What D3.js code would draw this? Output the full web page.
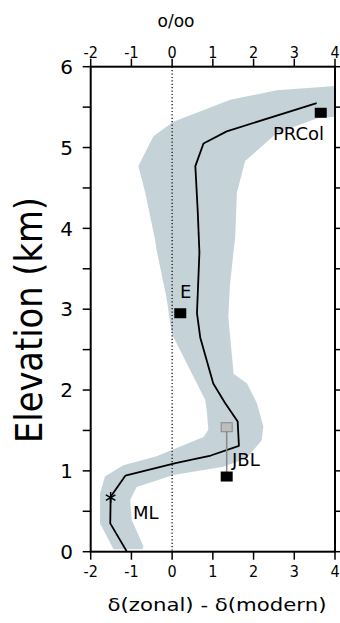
<!DOCTYPE html>
<html>
<head>
<meta charset="utf-8">
<script src="https://cdn.jsdelivr.net/npm/d3@7"></script>
<style>
  html, body { margin: 0; padding: 0; background: #fff; }
  svg { display: block; }
  .tick-num { font-family: "Liberation Sans Narrow", "DejaVu Sans Condensed", sans-serif; font-stretch: condensed; }
  .lab { font-family: "DejaVu Sans", sans-serif; }
</style>
</head>
<body>
<div id="chart"></div>
<script>
// mean profile: delta offset (per mil) vs elevation (km)
const meanX = [3.55, 1.34, 0.77, 0.57, 0.63, 0.67, 0.61, 0.69, 1.01, 1.30, 1.61, 1.64, 0.95, 0.11, -1.15, -1.51, -1.52, -1.11];
const meanY = [5.55, 5.20, 5.05, 4.77, 4.20, 3.70, 2.95, 2.65, 2.08, 1.84, 1.61, 1.31, 1.19, 1.10, 0.94, 0.68, 0.35, 0.00];

// shaded uncertainty envelope (polygon outline, clockwise)
const bandX = [-0.46, 0.03, 1.43, 2.57, 4.0, 4.0, 3.55, 2.57, 1.79, 1.59, 1.55, 1.42, 1.38, 1.51, 1.84, 2.08, 2.24, 2.20, 1.84, 1.26, 0.03, -0.87, -1.03, -0.99, -0.70, -0.74, -1.44, -1.77, -1.77, -1.65, -1.20, -0.38, 0.77, 0.89, 0.85, 0.81, 0.28, -0.01, -0.13, -0.38, -0.42, -0.66, -0.83];
const bandY = [5.14, 5.32, 5.59, 5.71, 5.76, 5.38, 5.36, 5.18, 4.83, 4.44, 3.90, 3.30, 2.90, 2.20, 2.08, 1.84, 1.55, 1.38, 1.16, 1.05, 0.95, 0.80, 0.64, 0.39, 0.06, 0.03, 0.03, 0.35, 0.72, 0.93, 1.07, 1.18, 1.42, 1.51, 1.75, 1.88, 2.41, 2.70, 3.12, 3.73, 3.86, 4.44, 4.77];

// sample sites
const siteNames = ["PRCol", "E", "JBL"];
const siteX = [3.65, 0.20, 1.34];
const siteY = [5.43, 2.95, 0.93];
const jblModX = [1.34];
const jblModY = [1.54];
const mlX = [-1.51];
const mlY = [0.67];

const xTicks = [-2, -1, 0, 1, 2, 3, 4];
const yTicks = [0, 1, 2, 3, 4, 5, 6];
const yMinor = [0, 0.5, 1, 1.5, 2, 2.5, 3, 3.5, 4, 4.5, 5, 5.5, 6];

const W = 340, H = 623;
const pL = 90.7, pR = 335, pT = 66.7, pB = 551.7;

const x = d3.scaleLinear().domain([-2, 4]).range([pL, pR]);
const y = d3.scaleLinear().domain([0, 6]).range([pB, pT]);

const svg = d3.select("#chart").append("svg")
  .attr("width", W).attr("height", H);

// band
const bandPts = bandX.map((v, i) => [x(v), y(bandY[i])]);
svg.append("path")
  .attr("d", d3.line()(bandPts) + "Z")
  .attr("fill", "#c5d3d8");

// zero line
svg.append("line")
  .attr("x1", x(0)).attr("x2", x(0))
  .attr("y1", pT).attr("y2", pB)
  .attr("stroke", "#000").attr("stroke-width", 1.2)
  .attr("stroke-dasharray", "1.2,2.2");

// mean line
const meanPts = meanX.map((v, i) => [x(v), y(meanY[i])]);
svg.append("path")
  .attr("d", d3.line()(meanPts))
  .attr("fill", "none").attr("stroke", "#000").attr("stroke-width", 1.8)
  .attr("stroke-linejoin", "round");

// JBL connector + modern (gray) square
svg.append("line")
  .attr("x1", x(jblModX[0])).attr("x2", x(siteX[2]))
  .attr("y1", y(jblModY[0])).attr("y2", y(siteY[2]))
  .attr("stroke", "#888").attr("stroke-width", 1.5);
svg.append("rect")
  .attr("x", x(jblModX[0]) - 5.5).attr("y", y(jblModY[0]) - 4.5)
  .attr("width", 11).attr("height", 9)
  .attr("fill", "#bdbdbd").attr("stroke", "#888").attr("stroke-width", 1);

// black squares
svg.selectAll("rect.site").data(siteX).enter().append("rect")
  .attr("class", "site")
  .attr("x", (d) => x(d) - 6).attr("y", (d, i) => y(siteY[i]) - 5)
  .attr("width", 12).attr("height", 10)
  .attr("fill", "#000");

// ML star
svg.append("path")
  .attr("d", d3.symbol().type(d3.symbolAsterisk).size(85)())
  .attr("transform", `translate(${x(mlX[0])},${y(mlY[0])})`)
  .attr("fill", "none").attr("stroke", "#000").attr("stroke-width", 1.5);

// site labels
const labPos = [[273, 140, "PRCol"], [180, 298, "E"], [232, 465.5, "JBL"], [133, 518.5, "ML"]];
svg.selectAll("text.site").data(labPos).enter().append("text")
  .attr("class", "lab site")
  .attr("x", (d) => d[0]).attr("y", (d) => d[1])
  .attr("font-size", 18)
  .text((d) => d[2]);

// frame
svg.append("rect")
  .attr("x", pL).attr("y", pT)
  .attr("width", pR - pL).attr("height", pB - pT)
  .attr("fill", "none").attr("stroke", "#000").attr("stroke-width", 2);

// x ticks top & bottom
const tk = 8;
xTicks.forEach((t) => {
  svg.append("line").attr("x1", x(t)).attr("x2", x(t))
    .attr("y1", pT - tk).attr("y2", pT).attr("stroke", "#000").attr("stroke-width", 1.5);
  svg.append("line").attr("x1", x(t)).attr("x2", x(t))
    .attr("y1", pB).attr("y2", pB + tk).attr("stroke", "#000").attr("stroke-width", 1.5);
});
svg.selectAll("text.xt").data(xTicks).enter().append("text")
  .attr("class", "tick-num xt")
  .attr("x", (d) => x(d)).attr("y", 57.5)
  .attr("text-anchor", "middle").attr("font-size", 16)
  .text((d) => d);
svg.selectAll("text.xb").data(xTicks).enter().append("text")
  .attr("class", "tick-num xb")
  .attr("x", (d) => x(d)).attr("y", 577)
  .attr("text-anchor", "middle").attr("font-size", 16)
  .text((d) => d);

// y ticks left & right
yMinor.forEach((t) => {
  svg.append("line").attr("x1", pL - tk).attr("x2", pL)
    .attr("y1", y(t)).attr("y2", y(t)).attr("stroke", "#000").attr("stroke-width", 1.5);
  svg.append("line").attr("x1", pR).attr("x2", pR + tk)
    .attr("y1", y(t)).attr("y2", y(t)).attr("stroke", "#000").attr("stroke-width", 1.5);
});
svg.selectAll("text.yt").data(yTicks).enter().append("text")
  .attr("class", "lab yt")
  .attr("x", 73).attr("y", (d) => y(d))
  .attr("dy", "0.36em")
  .attr("text-anchor", "end").attr("font-size", 20)
  .text((d) => d);

// axis titles
svg.append("text").attr("class", "lab")
  .attr("x", 176).attr("y", 26.5)
  .attr("text-anchor", "middle").attr("font-size", 17)
  .text("o/oo");

svg.append("text").attr("class", "lab")
  .attr("x", 217).attr("y", 611)
  .attr("text-anchor", "middle").attr("font-size", 18)
  .attr("textLength", 219).attr("lengthAdjust", "spacingAndGlyphs")
  .text("δ(zonal) - δ(modern)");

svg.append("text").attr("class", "lab")
  .attr("transform", "translate(42,320) rotate(-90)")
  .attr("text-anchor", "middle").attr("font-size", 37)
  .attr("textLength", 246).attr("lengthAdjust", "spacingAndGlyphs")
  .text("Elevation  (km)");
</script>
</body>
</html>
